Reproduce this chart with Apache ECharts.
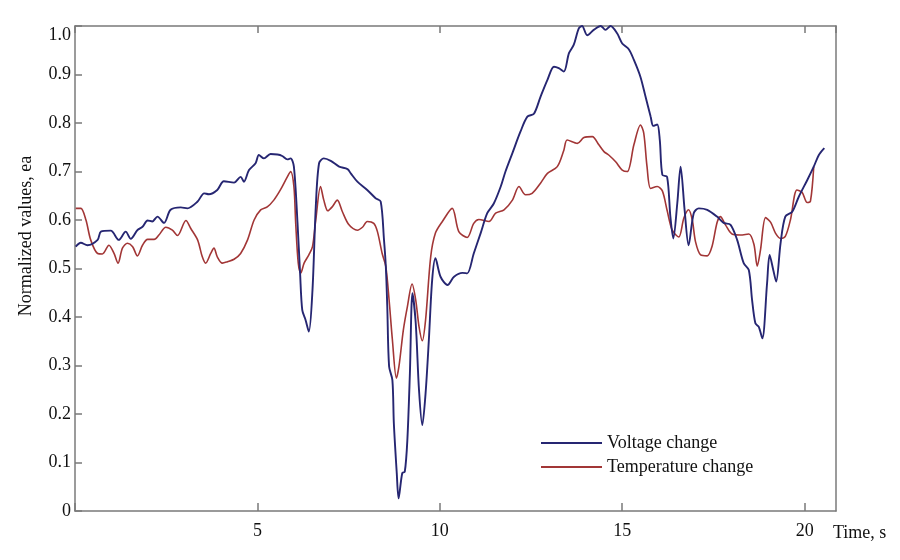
<!DOCTYPE html>
<html>
<head>
<meta charset="utf-8">
<script src="https://cdn.jsdelivr.net/npm/echarts@6/dist/echarts.min.js"></script>
<style>html,body{margin:0;padding:0;background:#fff}#c{width:900px;height:560px}</style>
</head>
<body>
<div id="c"></div>
<script>
var voltT = [0.02,0.16,0.34,0.62,0.71,0.98,1.20,1.39,1.53,1.71,1.85,1.99,2.12,2.26,2.44,2.62,2.90,3.08,3.36,3.54,3.67,3.90,4.08,4.36,4.54,4.63,4.77,4.95,5.04,5.18,5.36,5.55,5.68,5.82,5.91,6.00,6.10,6.17,6.23,6.32,6.41,6.51,6.60,6.69,6.82,7.01,7.24,7.47,7.56,7.74,8.01,8.24,8.38,8.47,8.52,8.56,8.61,8.70,8.74,8.82,8.87,8.97,9.04,9.11,9.18,9.25,9.34,9.43,9.52,9.61,9.70,9.79,9.88,10.02,10.21,10.39,10.62,10.75,10.93,11.12,11.30,11.48,11.67,11.80,11.99,12.21,12.40,12.58,12.76,12.95,13.13,13.26,13.40,13.54,13.67,13.81,13.90,14.04,14.22,14.41,14.54,14.68,14.86,15.00,15.18,15.32,15.50,15.64,15.78,15.85,15.96,16.03,16.10,16.23,16.32,16.40,16.51,16.60,16.71,16.82,16.96,17.10,17.33,17.60,17.78,17.97,18.15,18.33,18.47,18.56,18.65,18.74,18.84,18.97,19.04,19.14,19.22,19.34,19.47,19.66,19.84,20.07,20.25,20.39,20.54];
var voltV = [0.545,0.553,0.548,0.559,0.576,0.578,0.559,0.576,0.561,0.579,0.586,0.599,0.597,0.607,0.594,0.621,0.626,0.624,0.638,0.655,0.653,0.662,0.680,0.677,0.689,0.679,0.703,0.717,0.734,0.727,0.736,0.735,0.732,0.725,0.727,0.71,0.593,0.49,0.414,0.394,0.37,0.456,0.627,0.717,0.727,0.722,0.71,0.705,0.696,0.679,0.662,0.645,0.638,0.559,0.504,0.421,0.298,0.27,0.181,0.078,0.026,0.078,0.081,0.146,0.284,0.449,0.387,0.249,0.177,0.243,0.353,0.476,0.521,0.483,0.466,0.483,0.491,0.49,0.531,0.573,0.614,0.634,0.669,0.70,0.738,0.782,0.813,0.819,0.854,0.889,0.916,0.913,0.906,0.944,0.961,0.995,1.0,0.981,0.992,1.0,0.992,1.0,0.985,0.964,0.952,0.93,0.895,0.854,0.813,0.794,0.797,0.765,0.693,0.689,0.607,0.562,0.635,0.71,0.621,0.548,0.614,0.624,0.621,0.607,0.594,0.59,0.559,0.511,0.497,0.435,0.387,0.38,0.356,0.469,0.528,0.497,0.473,0.552,0.607,0.617,0.648,0.682,0.71,0.734,0.748];
var tempT = [0.02,0.16,0.30,0.43,0.62,0.75,0.93,1.07,1.18,1.30,1.44,1.58,1.71,1.85,1.99,2.17,2.30,2.49,2.67,2.81,3.04,3.17,3.36,3.49,3.58,3.72,3.81,3.90,4.04,4.18,4.36,4.54,4.73,4.91,5.09,5.27,5.45,5.63,5.82,5.91,6.00,6.05,6.12,6.19,6.28,6.41,6.51,6.60,6.73,6.82,6.93,7.05,7.19,7.33,7.51,7.74,7.88,8.01,8.19,8.29,8.42,8.52,8.61,8.70,8.81,8.88,9.00,9.11,9.24,9.34,9.43,9.52,9.61,9.75,9.88,10.07,10.34,10.52,10.75,10.93,11.07,11.35,11.53,11.76,11.99,12.17,12.35,12.53,12.76,12.95,13.22,13.40,13.49,13.77,13.95,14.18,14.36,14.50,14.63,14.82,15.00,15.14,15.32,15.50,15.59,15.68,15.78,15.96,16.10,16.23,16.37,16.55,16.69,16.82,16.92,17.01,17.15,17.33,17.46,17.60,17.69,17.83,18.01,18.24,18.47,18.61,18.70,18.79,18.93,19.07,19.20,19.34,19.47,19.61,19.79,19.93,20.07,20.16,20.25];
var tempV = [0.624,0.624,0.60,0.559,0.531,0.53,0.548,0.531,0.511,0.542,0.552,0.545,0.526,0.548,0.56,0.56,0.569,0.585,0.579,0.568,0.599,0.583,0.559,0.524,0.511,0.531,0.542,0.524,0.511,0.514,0.519,0.531,0.559,0.60,0.621,0.627,0.641,0.662,0.689,0.70,0.669,0.593,0.511,0.491,0.511,0.528,0.545,0.60,0.669,0.641,0.619,0.627,0.641,0.617,0.59,0.579,0.585,0.597,0.593,0.576,0.531,0.504,0.435,0.353,0.274,0.298,0.373,0.421,0.468,0.435,0.38,0.351,0.394,0.524,0.573,0.597,0.624,0.576,0.564,0.593,0.601,0.597,0.614,0.621,0.641,0.669,0.652,0.655,0.676,0.696,0.71,0.744,0.765,0.758,0.77,0.772,0.755,0.741,0.734,0.72,0.703,0.70,0.755,0.796,0.779,0.71,0.665,0.669,0.66,0.62,0.579,0.565,0.604,0.621,0.60,0.555,0.528,0.526,0.545,0.595,0.607,0.59,0.571,0.569,0.571,0.55,0.505,0.538,0.605,0.595,0.573,0.562,0.566,0.60,0.662,0.657,0.636,0.639,0.71];
var seriesNames = ['Voltage change', 'Temperature change'];
var xTickLabels = ['', '5', '10', '15', '20'];
var xAxisName = 'Time, s';
var yAxisName = 'Normalized values, ea';

var FONT = "'Liberation Serif', 'Times New Roman', serif";
var AXIS = '#7a7a7a';
var chart = echarts.init(document.getElementById('c'));
function pairs(t, v) { return t.map(function (x, i) { return [x, v[i]]; }); }
function xLabel(v) {
  var k = v / 5;
  if (Math.abs(k - Math.round(k)) > 1e-6) return '';
  return xTickLabels[Math.round(k)] || '';
}

chart.setOption({
  backgroundColor: '#fff',
  animation: false,
  grid: { left: 75, right: 64, top: 26, bottom: 49, containLabel: false, outerBoundsMode: 'none' },
  xAxis: [{
    type: 'value', min: 0, max: 20.86, interval: 5, position: 'bottom',
    axisLine: { show: true, onZero: false, lineStyle: { color: AXIS, width: 1.5 } },
    axisTick: { show: true, inside: true, length: 8, lineStyle: { color: AXIS, width: 1.5 } },
    splitLine: { show: false },
    axisLabel: { margin: 11, color: '#111', fontFamily: FONT, fontSize: 18, showMaxLabel: false, formatter: xLabel },
    name: xAxisName, nameLocation: 'end', nameGap: -3,
    nameTextStyle: { color: '#111', fontFamily: FONT, fontSize: 18, align: 'left', verticalAlign: 'top', padding: [13, 0, 0, 0] }
  }, {
    type: 'value', min: 0, max: 20.86, interval: 5, position: 'top',
    axisLine: { show: true, onZero: false, lineStyle: { color: AXIS, width: 1.5 } },
    axisTick: { show: true, inside: true, length: 7, lineStyle: { color: AXIS, width: 1.5 } },
    splitLine: { show: false }, axisLabel: { show: false }
  }],
  yAxis: [{
    type: 'value', min: 0, max: 1, interval: 0.1, position: 'left',
    axisLine: { show: true, onZero: false, lineStyle: { color: AXIS, width: 1.5 } },
    axisTick: { show: true, inside: true, length: 7, lineStyle: { color: AXIS, width: 1.5 } },
    splitLine: { show: false },
    axisLabel: { margin: 4, color: '#111', fontFamily: FONT, fontSize: 18,
      formatter: function (v) {
        if (Math.abs(v) < 1e-9) return '0';
        if (Math.abs(v - 1) < 1e-9) return '{top|1.0}';
        return v.toFixed(1);
      },
      rich: { top: { fontFamily: FONT, fontSize: 18, color: '#111', padding: [18, 0, 0, 0] } }
    }
  }, {
    type: 'value', min: 0, max: 1, interval: 0.1, position: 'right',
    axisLine: { show: true, onZero: false, lineStyle: { color: AXIS, width: 1.5 } },
    axisTick: { show: false }, axisLabel: { show: false }, splitLine: { show: false }
  }],
  legend: {
    orient: 'vertical', left: 541, top: 434, padding: 0, icon: 'rect', itemWidth: 61, itemHeight: 2, itemGap: 6,
    textStyle: { color: '#111', fontFamily: FONT, fontSize: 18, padding: [0, 0, 0, 0] },
    data: seriesNames
  },
  graphic: [{
    type: 'text', x: 26, y: 236, rotation: Math.PI / 2,
    style: { text: yAxisName, fill: '#111', font: "18px 'Liberation Serif', 'Times New Roman', serif",
      align: 'center', verticalAlign: 'middle' }
  }],
  series: [{
    name: seriesNames[0], type: 'line', data: pairs(voltT, voltV), showSymbol: false, symbol: 'none',
    smooth: 0.3, lineStyle: { color: '#262672', width: 1.9 }, itemStyle: { color: '#262672' }, z: 3
  }, {
    name: seriesNames[1], type: 'line', data: pairs(tempT, tempV), showSymbol: false, symbol: 'none',
    smooth: 0.3, lineStyle: { color: '#a23636', width: 1.6 }, itemStyle: { color: '#a23636' }, z: 2
  }]
});
</script>
</body>
</html>
